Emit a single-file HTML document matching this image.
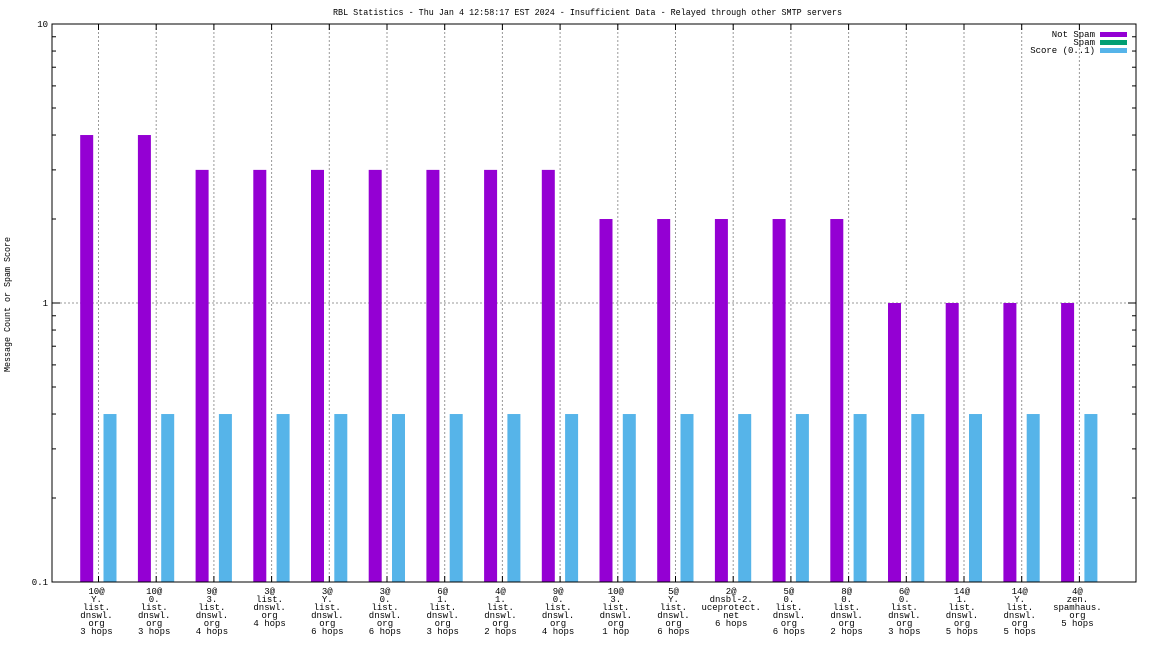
<!DOCTYPE html>
<html><head><meta charset="utf-8"><style>
body{margin:0;background:#fff;}
svg{display:block;font-family:"Liberation Mono",monospace;}
</style></head><body>
<svg id="chart" width="1152" height="648" xmlns="http://www.w3.org/2000/svg">
<text x="333" y="15" font-size="9" textLength="509" lengthAdjust="spacingAndGlyphs">RBL Statistics - Thu Jan  4 12:58:17 EST 2024 - Insufficient Data - Relayed through other SMTP servers</text>
<text transform="translate(10,372) rotate(-90)" font-size="9" textLength="135" lengthAdjust="spacingAndGlyphs">Message Count or Spam Score</text>
<g id="grid"></g><g id="bars"></g><g id="axes"></g>
<g font-size="9">
<text x="1095" y="37" text-anchor="end">Not Spam</text>
<rect x="1100" y="32" width="27" height="5" fill="#9400d3"/>
<text x="1095" y="45" text-anchor="end">Spam</text>
<rect x="1100" y="40" width="27" height="5" fill="#009e73"/>
<text x="1095" y="53" text-anchor="end">Score (0..1)</text>
<rect x="1100" y="48" width="27" height="5" fill="#56b4e9"/>
</g>
</svg>
<script>
const categories=[["10@","Y.","list.","dnswl.","org","3 hops"],["10@","0.","list.","dnswl.","org","3 hops"],["9@","3.","list.","dnswl.","org","4 hops"],["3@","list.","dnswl.","org","4 hops"],["3@","Y.","list.","dnswl.","org","6 hops"],["3@","0.","list.","dnswl.","org","6 hops"],["6@","1.","list.","dnswl.","org","3 hops"],["4@","1.","list.","dnswl.","org","2 hops"],["9@","0.","list.","dnswl.","org","4 hops"],["10@","3.","list.","dnswl.","org","1 hop"],["5@","Y.","list.","dnswl.","org","6 hops"],["2@","dnsbl-2.","uceprotect.","net","6 hops"],["5@","0.","list.","dnswl.","org","6 hops"],["8@","0.","list.","dnswl.","org","2 hops"],["6@","0.","list.","dnswl.","org","3 hops"],["14@","1.","list.","dnswl.","org","5 hops"],["14@","Y.","list.","dnswl.","org","5 hops"],["4@","zen.","spamhaus.","org","5 hops"]];
const notSpam=[4,4,3,3,3,3,3,3,3,2,2,2,2,2,1,1,1,1];
const score=[0.4,0.4,0.4,0.4,0.4,0.4,0.4,0.4,0.4,0.4,0.4,0.4,0.4,0.4,0.4,0.4,0.4,0.4];
const yTicks=[0.1,1,10];
const NS="http://www.w3.org/2000/svg";
const L=52,R=1136,T=24,B=582;
const y=v=>303-Math.log10(v)*279;
const x=i=>98.5+57.7*i;
function mk(p,tag,a){const e=document.createElementNS(NS,tag);for(const k in a)e.setAttribute(k,a[k]);document.getElementById(p).appendChild(e);return e;}
categories.forEach((c,i)=>{
 const g=mk('grid','line',{x1:x(i),x2:x(i),y1:T,y2:B,stroke:'#999','stroke-dasharray':'2,2','stroke-width':1});
 
 
 const t1=mk('axes','line',{x1:x(i),x2:x(i),y1:B,y2:B-6,stroke:'#000'});
 
 
 const t2=mk('axes','line',{x1:x(i),x2:x(i),y1:T,y2:T+6,stroke:'#000'});
 
 
 const tx=mk('axes','text',{x:x(i)-2,y:594,'font-size':9,'text-anchor':'middle'});
 
 
 c.forEach((s,j)=>{const ts=document.createElementNS(NS,'tspan');ts.setAttribute('x',x(i)-2);ts.setAttribute('dy',j?8:0);ts.textContent=s;tx.appendChild(ts);});
 const b=mk('bars','rect',{x:x(i)-18.3,y:y(notSpam[i]),width:13,height:B-y(notSpam[i]),fill:'#9400d3'});
 
 
 const s=mk('bars','rect',{x:x(i)+5,y:y(score[i]),width:13,height:B-y(score[i]),fill:'#56b4e9'});
 
 
});
const hg=mk('grid','line',{x1:L,x2:R,y1:y(1),y2:y(1),stroke:'#999','stroke-dasharray':'2,2'});


yTicks.forEach(v=>{
 const t=mk('axes','text',{x:L-4,y:y(v)+3,'font-size':9,'text-anchor':'end'});
 
 
 t.textContent=v;
});
for(let d=-1;d<1;d++)for(let m=1;m<=9;m++){
 const v=m*Math.pow(10,d),len=m==1?8:4;
 const a=mk('axes','line',{x1:L,x2:L+len,y1:y(v),y2:y(v),stroke:'#000'});
 
 
 const c=mk('axes','line',{x1:R,x2:R-len,y1:y(v),y2:y(v),stroke:'#000'});
 
 
}
const fr=mk('axes','rect',{x:L,y:T,width:R-L,height:B-T,fill:'none',stroke:'#000'});


</script>
</body></html>
